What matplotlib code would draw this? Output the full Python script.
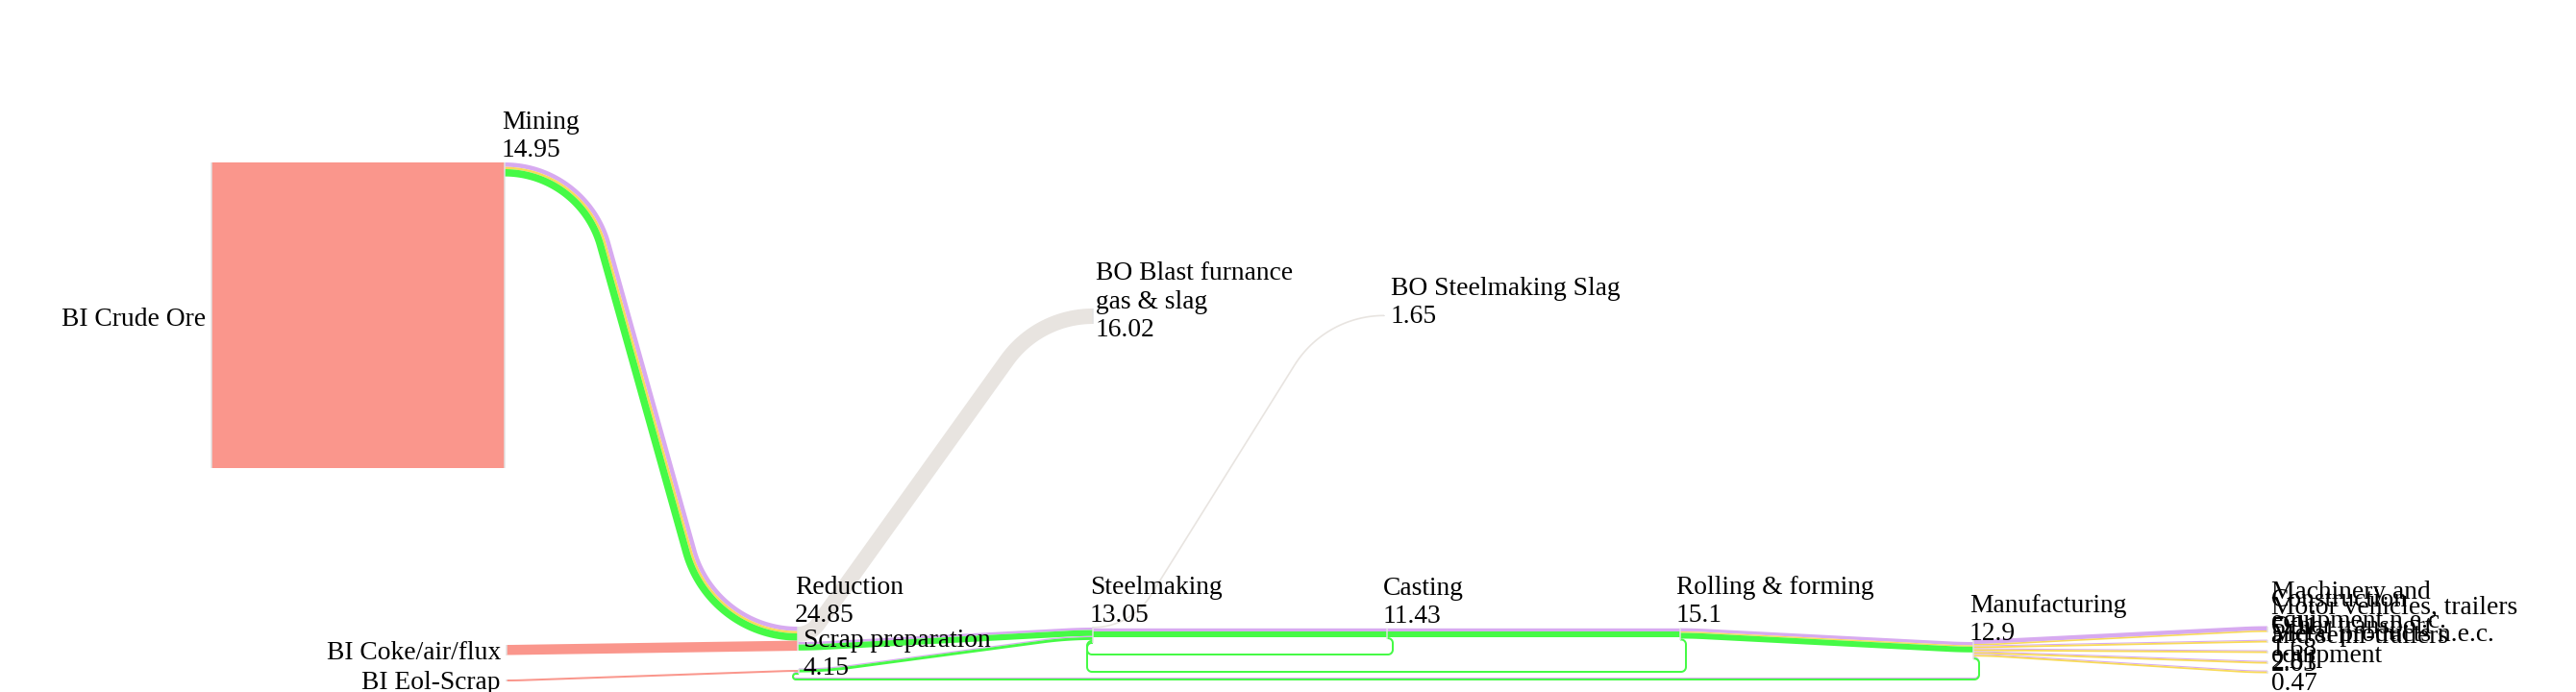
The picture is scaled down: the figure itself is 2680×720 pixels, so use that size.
import numpy as np
import matplotlib
matplotlib.use("Agg")
import matplotlib.pyplot as plt

# ---- data ----
node_names = ["BI Crude Ore", "Mining", "BI Coke/air/flux", "BI Eol-Scrap", "Reduction",
              "Scrap preparation", "BO Blast furnance\ngas & slag", "Steelmaking",
              "BO Steelmaking Slag", "Casting", "Rolling & forming", "Manufacturing",
              "Construction", "Metal products n.e.c.", "Machinery and\nequipment n.e.c.",
              "Motor vehicles, trailers\nand semi-trailers", "Other transport\nequipment"]
node_values = ["", "14.95", "", "", "24.85", "4.15", "16.02", "13.05", "1.65", "11.43",
               "15.1", "12.9", "5.91", "2.81", "1.68", "2.03", "0.47"]

# links: source, target, material, flow (drawn width)
link_src = [0, 1, 1, 1, 2, 3, 4, 4, 4, 5, 5, 7, 7, 7, 9, 9, 9, 10, 10, 10, 10,
            11, 11, 11, 11, 11, 11, 11, 11, 11, 11, 11, 11]
link_tgt = [1, 4, 4, 4, 4, 5, 6, 7, 7, 7, 7, 8, 9, 9, 10, 10, 7, 11, 11, 11, 7,
            12, 12, 13, 13, 14, 14, 15, 15, 16, 16, 5, 5]
link_kind = ["in", "a", "b", "c", "in", "in", "loss", "a", "c", "a", "c", "loss", "a", "c",
             "a", "c", "c", "a", "b", "c", "c",
             "a", "b", "a", "b", "a", "b", "a", "b", "a", "b", "a", "c"]
link_value = [318, 4.6, 2.4, 7.6, 10.5, 2.0, 16.02, 2.6, 6.2, 1.2, 2.9, 1.65, 3.4, 6.0,
              3.4, 6.0, 2.0, 3.4, 1.4, 6.0, 2.0,
              4.5, 1.6, 1.1, 1.8, 1.1, 1.8, 1.1, 1.8, 1.1, 1.8, 1.0, 2.0]

# ---- layout (pixels of the 2680x720 canvas) ----
colors = {"in": "#fa968c", "a": "#d7aaf0", "b": "#f8da58", "c": "#46fa46", "loss": "#e8e4e0"}
node_x = [220, 525, 527, 527, 830, 831, 1137, 1137, 1440, 1443, 1748, 2053,
          2359, 2359, 2359, 2359, 2359]
node_in_top = [0, 169, 0, 0, 652, 697, 321, 653, 327.5, 653.65, 653.65, 668,
               651.5, 665.6, 676.6, 687.6, 697.6]
node_out_top = [169, 169, 671, 707, 652, 695.5, 0, 652, 0, 653.65, 653.65, 665.5,
                0, 0, 0, 0, 0]
# label: x, baseline of last line, alignment
label_pos = [(214, 339, "right"), (522, 163, "left"), (521, 686, "right"), (521, 717, "right"),
             (827, 647, "left"), (836, 702, "left"), (1140, 350, "left"), (1134, 647, "left"),
             (1447, 336, "left"), (1439, 648, "left"), (1744, 647, "left"), (2049, 666, "left"),
             (2363, 660, "left"), (2363, 696, "left"), (2363, 682, "left"),
             (2363, 698, "left"), (2363, 718, "left")]
# bend radii at (source end, target end) for each pair of nodes
radii = {(1, 4): (112, 112), (4, 6): (26, 110), (7, 8): (71, 110), (5, 7): (400, 400)}
loop_bottom = {(9, 7): 681, (10, 7): 699, (11, 5): 705.5}

PX = 0.72  # points per pixel at dpi 100
LINE = 29.3


def s_curve(x0, y0, x1, y1, r0, r1, n=50):
    # horizontal -> arc -> straight -> arc -> horizontal
    dx = x1 - x0
    dy = y1 - y0
    if abs(dy) < 0.05:
        return np.array([x0, x1]), np.array([y0, y1])
    s = np.sign(dy)
    ady = abs(dy)
    r0 = max(r0, 1.0)
    r1 = max(r1, 1.0)
    lim = (dx ** 2 + ady ** 2) / (2 * ady)
    if r0 + r1 > lim:
        f = 0.999 * lim / (r0 + r1)
        r0 *= f
        r1 *= f
    R = r0 + r1
    B = R - ady
    th = np.arcsin(R / np.hypot(dx, B)) - np.arctan2(B, dx)
    p = np.linspace(0, th, n)
    xa = x0 + r0 * np.sin(p)
    ya = y0 + s * r0 * (1 - np.cos(p))
    q = p[::-1]
    xb = x1 - r1 * np.sin(q)
    yb = y1 - s * r1 * (1 - np.cos(q))
    return np.concatenate([xa, xb]), np.concatenate([ya, yb])


def arc(cx, cy, r, a0, a1, n=12):
    a = np.radians(np.linspace(a0, a1, n))
    return cx + r * np.cos(a), cy + r * np.sin(a)


def loop_path(xs, ys, xt, yt, yb, e=6.0, r=5.0):
    # return link that goes round underneath, back to an earlier node
    xr = xs + e
    xl = xt - e
    rr = min(r, (yb - ys) / 2)
    rl = min(r, (yb - yt) / 2)
    parts = [([xs], [ys]),
             arc(xr - rr, ys + rr, rr, -90, 0),
             arc(xr - rr, yb - rr, rr, 0, 90),
             arc(xl + rl, yb - rl, rl, 90, 180),
             arc(xl + rl, yt + rl, rl, 180, 270),
             ([xt], [yt])]
    return np.concatenate([p[0] for p in parts]), np.concatenate([p[1] for p in parts])


plt.rcParams["font.family"] = ["Liberation Serif", "DejaVu Serif"]
fig = plt.figure(figsize=(26.8, 7.2), dpi=100)
ax = fig.add_axes([0, 0, 1, 1])
ax.set_xlim(0, 2680)
ax.set_ylim(720, 0)
ax.axis("off")

# stack links on the nodes
out_cur = list(node_out_top)
in_cur = list(node_in_top)
y0s, y1s = [], []
for s, t, v in zip(link_src, link_tgt, link_value):
    y0s.append(out_cur[s] + v / 2)
    out_cur[s] += v
    y1s.append(in_cur[t] + v / 2)
    in_cur[t] += v

ref = {}
for i, (s, t, k, v) in enumerate(zip(link_src, link_tgt, link_kind, link_value)):
    x0, x1 = node_x[s], node_x[t]
    y0, y1 = y0s[i], y1s[i]
    if (s, t) not in ref:
        ref[(s, t)] = (y0, y1)
    d0 = y0 - ref[(s, t)][0]
    d1 = y1 - ref[(s, t)][1]
    if x1 < x0:
        xs, ys = loop_path(x0, y0, x1, y1, loop_bottom[(s, t)] + d0)
    else:
        ra, rb = radii.get((s, t), (500, 500))
        sg = np.sign(ref[(s, t)][1] - ref[(s, t)][0])
        xs, ys = s_curve(x0, y0, x1, y1, ra - sg * d0, rb + sg * d1)
    ax.plot(xs, ys, color=colors[k], lw=v * PX, solid_capstyle="butt",
            solid_joinstyle="round", zorder=2)

# nodes as thin light bars
for j in range(len(node_names)):
    tot_in = in_cur[j] - node_in_top[j]
    tot_out = out_cur[j] - node_out_top[j]
    if tot_in > 0 and tot_out > 0:
        top = min(node_in_top[j], node_out_top[j])
    elif tot_in > 0:
        top = node_in_top[j]
    else:
        top = node_out_top[j]
    h = max(tot_in, tot_out)
    ax.plot([node_x[j], node_x[j]], [top, top + h], color="#e2e2e2", lw=1.5 * PX,
            solid_capstyle="butt", zorder=3)

# labels
for j, name in enumerate(node_names):
    lines = name.split("\n")
    if node_values[j]:
        lines.append(node_values[j])
    lx, ly, ha = label_pos[j]
    n = len(lines)
    for m, txt in enumerate(lines):
        ax.text(lx, ly - (n - 1 - m) * LINE, txt, ha=ha, va="baseline",
                fontsize=19.8, color="black", zorder=4)

fig.savefig("out.png", dpi=100)
